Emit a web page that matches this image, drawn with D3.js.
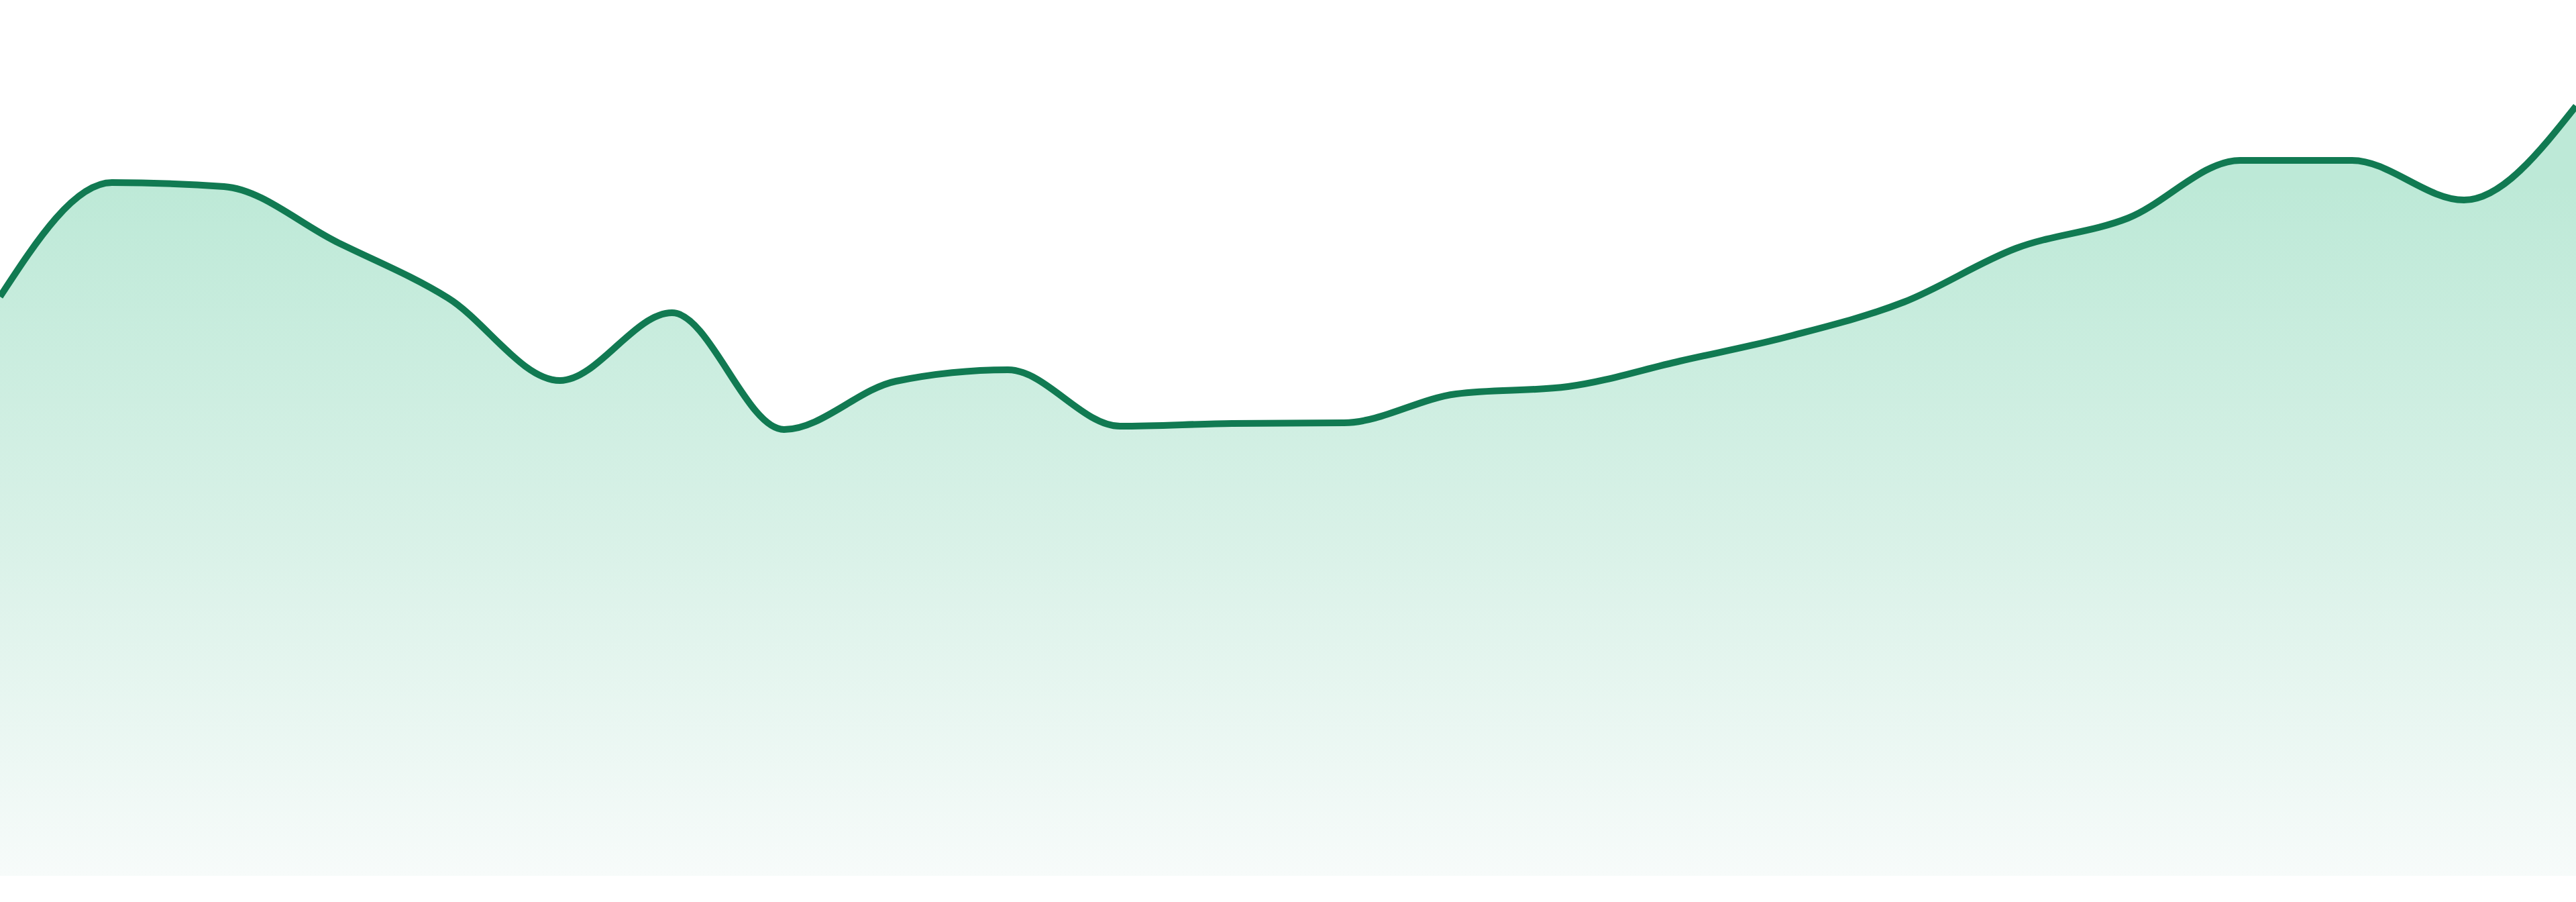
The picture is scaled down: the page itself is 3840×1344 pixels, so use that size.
<!DOCTYPE html>
<html>
<head>
<meta charset="utf-8">
<script src="https://cdn.jsdelivr.net/npm/d3@7"></script>
<style>
  html, body { margin: 0; padding: 0; background: #ffffff; overflow: hidden; }
  #chart { width: 3840px; height: 1344px; }
  svg { display: block; }
</style>
</head>
<body>
<div id="chart"></div>
<script>
// one value per period
const periods = d3.range(24);
const values = [
  86.3, 103.3, 102.7, 94.5, 86.1, 73.8, 83.9, 66.5,
  73.7, 75.4, 67.0, 67.4, 67.5, 71.8, 72.9, 76.7,
  80.5, 85.5, 93.5, 98.0, 106.6, 106.6, 100.7, 114.7
];
const yDomain = [0, 120];

const width = 3840;
const height = 1344;
const bottom = 1305;

const svg = d3.select("#chart")
  .append("svg")
  .attr("width", width)
  .attr("height", height)
  .attr("viewBox", `0 0 ${width} ${height}`)
  .style("background", "#ffffff");

const x = d3.scaleLinear()
  .domain(d3.extent(periods))
  .range([0, width]);

const y = d3.scaleLinear()
  .domain(yDomain)
  .range([bottom, bottom - 1200]);

const data = periods.map((p, i) => ({ p, v: values[i] }));

// gradient fill under the line
const defs = svg.append("defs");
const grad = defs.append("linearGradient")
  .attr("id", "fillGrad")
  .attr("gradientUnits", "userSpaceOnUse")
  .attr("x1", 0).attr("x2", 0)
  .attr("y1", y(103)).attr("y2", bottom);
grad.append("stop").attr("offset", "0%").attr("stop-color", "#bde9d7");
grad.append("stop").attr("offset", "50%").attr("stop-color", "#d8f1e7");
grad.append("stop").attr("offset", "100%").attr("stop-color", "#f7fbfa");

const area = d3.area()
  .x(d => x(d.p))
  .y0(bottom)
  .y1(d => y(d.v))
  .curve(d3.curveMonotoneX);

const line = d3.line()
  .x(d => x(d.p))
  .y(d => y(d.v))
  .curve(d3.curveMonotoneX);

svg.append("path")
  .datum(data)
  .attr("d", area)
  .attr("fill", "url(#fillGrad)");

svg.append("path")
  .datum(data)
  .attr("d", line)
  .attr("fill", "none")
  .attr("stroke", "#117a52")
  .attr("stroke-width", 10)
  .attr("stroke-linejoin", "round");
</script>
</body>
</html>
